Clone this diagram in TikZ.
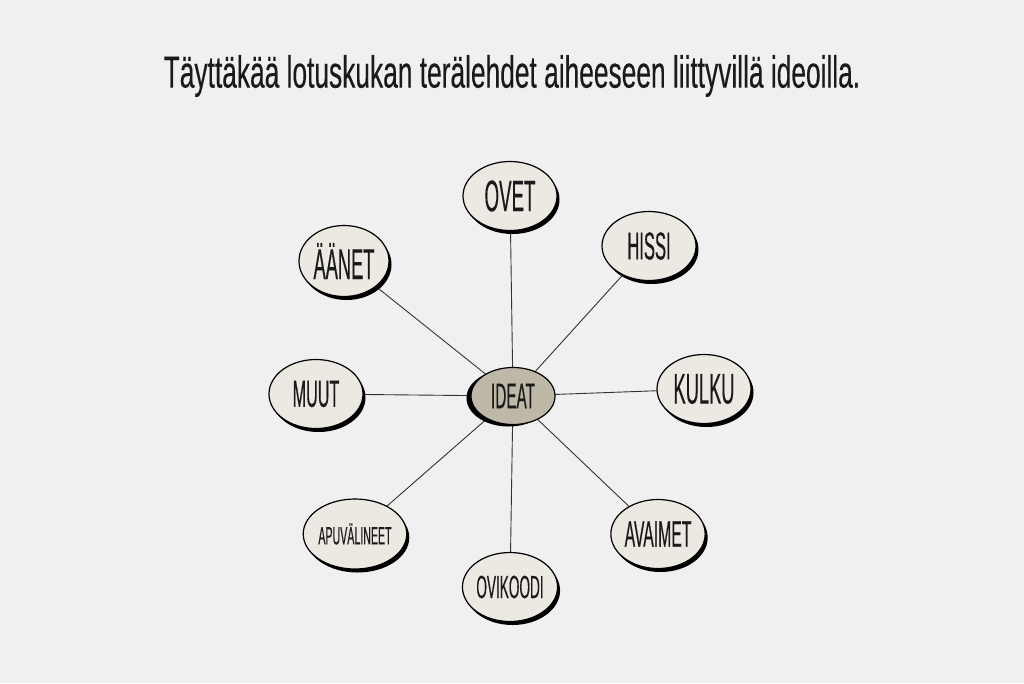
\documentclass[tikz,border=0pt]{standalone}
\usepackage{fontspec}
\setmainfont{Liberation Sans}
\newfontfamily\titlefont[FakeStretch=0.585,FakeBold=0.25]{Liberation Sans}
\newfontfamily\labfont[FakeStretch=0.425,FakeBold=0.25]{Liberation Sans}
\usetikzlibrary{shapes.geometric,shadows,backgrounds}
\definecolor{bgcol}{HTML}{F0F0F0}
\definecolor{petal}{HTML}{ECE8E2}
\definecolor{core}{HTML}{BDB8A7}
\definecolor{ink}{HTML}{1A1A1A}
\definecolor{linecol}{HTML}{333333}
\tikzset{
  petalnode/.style={ellipse, draw=black, line width=1.2pt, fill=petal, inner sep=0pt,
    minimum width=94pt, minimum height=69pt, text=ink,
    general shadow={shadow xshift=2.5pt, shadow yshift=-3.5pt, fill=black, opacity=1}},
  corenode/.style={ellipse, draw=black, line width=1.2pt, fill=core, inner sep=0pt,
    minimum width=84pt, minimum height=57pt, text=ink,
    general shadow={shadow xshift=-4.5pt, shadow yshift=-2pt, fill=black, opacity=1}},
  spoke/.style={draw=linecol, line width=0.9pt}
}
\newcommand{\lab}[1]{\labfont\fontsize{#1}{#1}\selectfont}
\begin{document}
\begin{tikzpicture}[x=1pt,y=-1pt]
\useasboundingbox (0,0) rectangle (1024,683);
\node[text=ink, font=\titlefont\fontsize{45}{45}\selectfont] (title) at (512,76) {Täyttäkää lotuskukan terälehdet aiheeseen liittyvillä ideoilla.};
\node[corenode, font=\lab{36}] (ideat) at (513,396) {IDEAT};
\node[petalnode, font=\lab{44}] (ovet) at (510,196) {OVET};
\node[petalnode, font=\lab{39}] (hissi) at (649,246) {HISSI};
\node[petalnode, font=\lab{43}, minimum width=90pt, minimum height=71pt] (aanet) at (344,261) {ÄÄNET};
\node[petalnode, font=\lab{38}] (muut) at (316,394) {MUUT};
\node[petalnode, font=\lab{43}] (kulku) at (704,389) {KULKU};
\node[petalnode, font=\lab{25}, minimum width=100pt, minimum height=70pt] (apu) at (355,534) {APUVÄLINEET};
\node[petalnode, font=\lab{37}] (avaimet) at (658,534) {AVAIMET};
\node[petalnode, font=\lab{32}] (ovikoodi) at (510,587) {OVIKOODI};
\begin{scope}[on background layer]
\fill[bgcol] (0,0) rectangle (1024,683);
\foreach \n in {ovet,hissi,aanet,muut,kulku,apu,avaimet,ovikoodi}
  \path[spoke] (ideat.center) -- (\n.center);
\end{scope}
\end{tikzpicture}
\end{document}
